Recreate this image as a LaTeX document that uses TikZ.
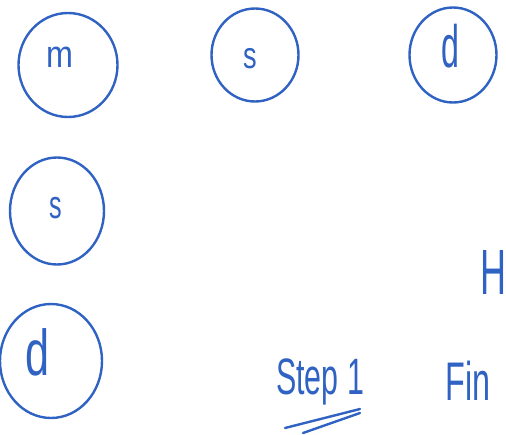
\documentclass[tikz,border=0pt]{standalone}
\usepackage{fontspec}
\setmainfont{Liberation Sans}
\usetikzlibrary{shapes.geometric}
\definecolor{ink}{HTML}{2F62C2}
\begin{document}
\begin{tikzpicture}[x=1pt,y=-1pt,
  ring/.style={draw=ink,line width=2.4pt,ellipse,inner sep=0pt},
  handtext/.style={text=ink,inner sep=0pt},
  pen/.style={draw=ink,line width=2.4pt,line cap=round}]
\useasboundingbox (0,0) rectangle (506,434);
\clip (0,0) rectangle (506,434);
\node[ring,minimum width=99pt,minimum height=104pt] (m1) at (68,65) {};
\node[handtext,font=\fontsize{38}{38}\selectfont] (mt) at (60,57) {\scalebox{0.85}[1]{m}};
\node[ring,minimum width=87pt,minimum height=93pt] (s1) at (255,55) {};
\node[handtext,font=\fontsize{34}{34}\selectfont] (st) at (250,59) {\scalebox{0.8}[1.1]{s}};
\node[ring,minimum width=87pt,minimum height=95pt] (d1) at (453,55) {};
\node[handtext,font=\fontsize{46}{46}\selectfont] (dt) at (450,46) {\scalebox{0.7}[1.3]{d}};
\node[ring,minimum width=94pt,minimum height=107pt] (s2) at (57,211) {};
\node[handtext,font=\fontsize{36}{36}\selectfont] (s2t) at (56,208) {\scalebox{0.7}[1.1]{s}};
\node[ring,minimum width=102pt,minimum height=114pt] (d2) at (51,361) {};
\node[handtext,font=\fontsize{54}{54}\selectfont] (d2t) at (38,352) {\scalebox{0.8}[1.2]{d}};
\node[handtext,font=\fontsize{32}{32}\selectfont] (step) at (320,382) {\scalebox{0.95}[1.6]{Step 1}};
\node[handtext,font=\fontsize{34}{34}\selectfont] (fin) at (468,381) {\scalebox{0.95}[1.6]{Fin}};
\node[handtext,font=\fontsize{40}{40}\selectfont,anchor=west] (h) at (480,272) {\scalebox{0.9}[1.6]{H}};
\coordinate (u1a) at ([xshift=-35pt,yshift=-46pt]step.center);
\coordinate (u1b) at ([xshift=40pt,yshift=-27pt]step.center);
\coordinate (u2a) at ([xshift=-17pt,yshift=-51pt]step.center);
\coordinate (u2b) at ([xshift=40pt,yshift=-31pt]step.center);
\draw[pen] (u1a) -- (u1b);
\draw[pen] (u2a) -- (u2b);
\end{tikzpicture}
\end{document}
